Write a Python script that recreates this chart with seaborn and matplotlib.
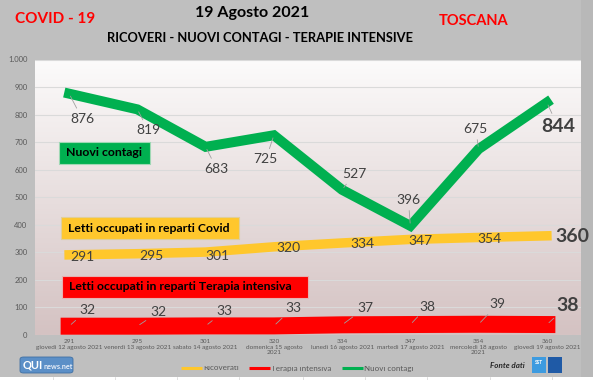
import textwrap
import numpy as np
import pandas as pd
import matplotlib
matplotlib.use("Agg")
import matplotlib.pyplot as plt
import seaborn as sns
from matplotlib.patches import Rectangle, FancyBboxPatch
from matplotlib.lines import Line2D
from matplotlib.colors import to_rgb
from matplotlib.transforms import Bbox, TransformedBbox

# ---------------- data ----------------
dates = ["giovedì 12 agosto 2021", "venerdì 13 agosto 2021", "sabato 14 agosto 2021",
         "domenica 15 agosto 2021", "lunedì 16 agosto 2021", "martedì 17 agosto 2021",
         "mercoledì 18 agosto 2021", "giovedì 19 agosto 2021"]
ricoverati = [291, 295, 301, 320, 334, 347, 354, 360]
terapia = [32, 32, 33, 33, 37, 38, 39, 38]
contagi = [876, 819, 683, 725, 527, 396, 675, 844]
yticks = [0, 100, 200, 300, 400, 500, 600, 700, 800, 900, 1000]

title = "19 Agosto 2021"
subtitle = "RICOVERI - NUOVI CONTAGI - TERAPIE INTENSIVE"
left_tag = "COVID - 19"
right_tag = "TOSCANA"
series_names = ["Ricoverati", "Terapia intensiva", "Nuovi contagi"]
box_texts = ["Nuovi contagi", "Letti occupati in reparti Covid",
             "Letti occupati in reparti Terapia intensiva"]

GREEN = "#00B050"
YELLOW = "#FFC72C"
RED = "#FF0000"
LABEL = "#404040"
AXTXT = "#595959"

sns.set_theme(style="white")
plt.rcParams["font.family"] = ["Lato", "DejaVu Sans"]

W, H = 594, 380
fig = plt.figure(figsize=(W / 100, H / 100), dpi=100, facecolor="#bfbfbf")


def fx(x):
    return x / W


def fy(y):
    return 1 - y / H


# right darker strip and bottom white strip (spreadsheet)
fig.add_artist(Rectangle((fx(581), fy(377)), fx(593) - fx(581), fy(0) - fy(377),
                         transform=fig.transFigure, facecolor="#b8b8b8", edgecolor="none", zorder=-5))
fig.add_artist(Rectangle((fx(593), 0), 1 - fx(593), 1, transform=fig.transFigure,
                         facecolor="white", edgecolor="none", zorder=-5))
fig.add_artist(Rectangle((0, 0), 1, fy(377), transform=fig.transFigure,
                         facecolor="white", edgecolor="none", zorder=-5))
for vx in [53, 115, 177, 239, 303, 365, 427, 490, 552]:
    fig.add_artist(Line2D([fx(vx), fx(vx)], [0, fy(377)], transform=fig.transFigure,
                          color="#d9d9d9", lw=0.6, zorder=-4))

ax = fig.add_axes([fx(35), fy(335), fx(581) - fx(35), fy(59.5) - fy(335)])

# gradient plot-area background
grad = np.linspace(0, 1, 256)[:, None, None]
top = np.array(to_rgb("#fcfbfb"))
bot = np.array(to_rgb("#d4c2c2"))
img = top + (bot - top) * grad
ax.imshow(img, extent=[0, 1, 0, 1], transform=ax.transAxes, aspect="auto",
          zorder=-2, origin="upper")

df = pd.DataFrame({"idx": np.arange(len(dates)), series_names[0]: ricoverati,
                   series_names[1]: terapia, series_names[2]: contagi})

sns.lineplot(data=df, x="idx", y=series_names[1], ax=ax, color=RED, linewidth=17 * 0.72,
             solid_capstyle="projecting", solid_joinstyle="miter", zorder=2)
sns.lineplot(data=df, x="idx", y=series_names[0], ax=ax, color=YELLOW, linewidth=9.5 * 0.72,
             solid_capstyle="projecting", solid_joinstyle="miter", zorder=3)
sns.lineplot(data=df, x="idx", y=series_names[2], ax=ax, color=GREEN, linewidth=10 * 0.72,
             solid_capstyle="projecting", solid_joinstyle="miter", zorder=4)

ax.set_xlim(-0.5, len(dates) - 0.5)
ax.set_ylim(0, 1000)
ax.set_yticks(yticks)
ax.set_yticklabels([f"{v:,}".replace(",", ".") for v in yticks], fontsize=5.5, color=AXTXT)
ax.set_xticks(np.arange(len(dates)))
ax.set_xticklabels([f"{r}\n{textwrap.fill(d, 22)}" for r, d in zip(ricoverati, dates)],
                   fontsize=4.6, color=AXTXT, linespacing=1.15)
ax.tick_params(axis="x", length=0, pad=3)
ax.tick_params(axis="y", length=0, pad=5.5)
ax.yaxis.grid(True, color="#dadada", lw=0.8)
ax.xaxis.grid(False)
ax.set_axisbelow(True)
ax.set_xlabel("")
ax.set_ylabel("")
for s in ax.spines.values():
    s.set_visible(False)

# data labels (offsets in pixels: dx, dy-down)
g_off = [(13, 25), (11, 21), (11, 22), (-8, 24), (12, -16), (-2, -26), (-3, -20), (11, 24)]
y_off = [(13, 2), (14, 2), (12, 4), (15, 1), (20, 1), (10, 2), (11, 2), (25, 1)]
r_off = [(18, -16), (21, -14), (19, -15), (19, -18), (23, -17), (17, -18), (19, -20), (21, -19)]


def add_labels(vals, offs, leader):
    n = len(vals)
    for i, (v, (dx, dy)) in enumerate(zip(vals, offs)):
        last = i == n - 1
        kw = dict(xy=(i, v), xytext=(dx, -dy), textcoords="offset pixels",
                  ha="center", va="center", color=LABEL,
                  fontsize=14 if last else 10, fontweight="bold" if last else "normal",
                  zorder=6)
        if leader:
            kw["arrowprops"] = dict(arrowstyle="-", color="#a0a0a0", lw=0.6,
                                    shrinkA=1, shrinkB=2)
        ax.annotate(f"{v}", **kw)


add_labels(contagi, g_off, True)
add_labels(ricoverati, y_off, False)
add_labels(terapia, r_off, True)

# coloured caption boxes
boxes = [(59, 150, 142, 164, GREEN, "#9fd8b4"), (61, 239, 217, 239, YELLOW, "#e0cf9a"),
         (62, 308, 276, 298, RED, "#e8b0b0")]
for (x0, x1, y0, y1, c, ec), t in zip(boxes, box_texts):
    fig.add_artist(Rectangle((fx(x0), fy(y1)), fx(x1) - fx(x0), fy(y0) - fy(y1),
                             transform=fig.transFigure, facecolor=c, edgecolor=ec,
                             lw=0.8, zorder=5))
    fig.text(fx(x0 + 7), fy((y0 + y1) / 2), t, ha="left", va="center", fontsize=8.8,
             fontweight="bold", color="black", zorder=6)

# titles
fig.text(fx(252), fy(13), title, ha="center", va="center", fontsize=11.5, fontweight="bold",
         color="black")
fig.text(fx(260), fy(38), subtitle, ha="center", va="center", fontsize=9.3, fontweight="bold",
         color="black")
fig.text(fx(55), fy(19), left_tag, ha="center", va="center", fontsize=11, fontweight="bold",
         color=RED)
fig.text(fx(474), fy(21), right_tag, ha="center", va="center", fontsize=10.5, fontweight="bold",
         color=RED)

# legend
clip = TransformedBbox(Bbox([[0, 0], [1, fy(366)]]), fig.transFigure)
for (x0, c), name in zip([(181, YELLOW), (249, RED), (342, GREEN)], series_names):
    fig.add_artist(Line2D([fx(x0), fx(x0 + 21)], [fy(368), fy(368)], transform=fig.transFigure,
                          color=c, lw=2.2, solid_capstyle="butt"))
    t = fig.text(fx(x0 + 22), fy(368), name, ha="left", va="center", fontsize=5.8, color=AXTXT)
    t.set_clip_box(clip)
    t.set_clip_on(True)

fig.text(fx(525), fy(366), "Fonte dati", ha="right", va="center", fontsize=5.8,
         fontstyle="italic", fontweight="bold", color="#262626")
# SST logo
fig.add_artist(Rectangle((fx(532), fy(373)), fx(546) - fx(532), fy(357) - fy(373),
                         transform=fig.transFigure, facecolor="#3d9be0", edgecolor="none"))
fig.add_artist(Rectangle((fx(548), fy(373)), fx(562) - fx(548), fy(357) - fy(373),
                         transform=fig.transFigure, facecolor="#1f5aa6", edgecolor="none"))
fig.text(fx(539), fy(362), "SST", ha="center", va="center", fontsize=3.5, fontweight="bold",
         color="white")

# QUInews logo
fig.add_artist(FancyBboxPatch((fx(20), fy(373)), fx(73) - fx(20), fy(357) - fy(373),
                              boxstyle="round,pad=0,rounding_size=0.006",
                              transform=fig.transFigure, facecolor="#5b8fc7",
                              edgecolor="#3f6fa3", lw=0.6))
fig.text(fx(23), fy(365), "QUI", ha="left", va="center", fontsize=8, fontweight="bold",
         color="white")
fig.text(fx(43), fy(366.5), "news.net", ha="left", va="center", fontsize=5.2,
         fontweight="bold", color="#e8eef8")

fig.savefig("out.png", dpi=100, facecolor=fig.get_facecolor())
